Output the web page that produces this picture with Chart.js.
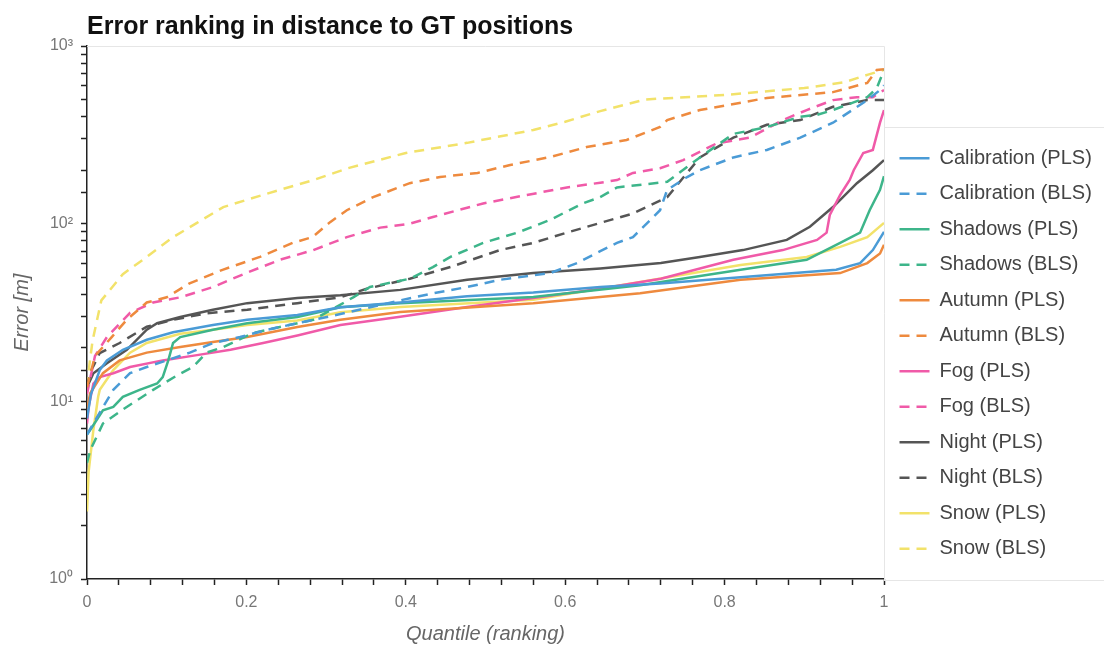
<!DOCTYPE html>
<html>
<head>
<meta charset="utf-8">
<script src="https://cdn.jsdelivr.net/npm/chart.js@4.4.0/dist/chart.umd.min.js"></script>
<style>
    html, body { margin: 0; padding: 0; background: #fff; }
    #wrap { width: 1104px; height: 646px; }
</style>
</head>
<body>
<div id="wrap"><canvas id="error-chart" width="1104" height="646"></canvas></div>
<script>
// [quantile, error in m]
const calibrationPLS = [[0,8],[0.005,11],[0.016,15],[0.025,17],[0.045,19.5],[0.075,22.2],[0.108,24.5],[0.158,26.9],[0.201,28.8],[0.264,30.6],[0.318,33.8],[0.393,36],[0.477,39],[0.56,41],[0.644,44],[0.719,46],[0.82,50],[0.94,55],[0.97,60],[0.986,71],[1,90]];
const calibrationBLS = [[0,6.5],[0.013,8.2],[0.033,11.6],[0.054,14.4],[0.075,15.6],[0.1,17],[0.129,18.8],[0.158,21.3],[0.192,23],[0.226,25.3],[0.264,27.5],[0.318,31],[0.393,37],[0.434,40.5],[0.477,44],[0.518,48.3],[0.581,52.7],[0.615,60],[0.644,70],[0.665,78],[0.685,84],[0.719,119],[0.728,155],[0.753,183],[0.769,200],[0.811,236],[0.853,260],[0.895,305],[0.936,370],[0.979,496],[0.995,565],[1,600]];
const shadowsPLS = [[0,6.5],[0.004,6.9],[0.02,8.9],[0.033,9.3],[0.045,10.6],[0.066,11.6],[0.088,12.6],[0.095,13.7],[0.102,17],[0.108,21.3],[0.117,23],[0.158,25.3],[0.201,27.5],[0.264,29.8],[0.318,33.8],[0.393,35.6],[0.56,38.6],[0.694,45],[0.82,55],[0.903,62.6],[0.945,78],[0.97,89],[0.982,119],[0.995,155],[1,185]];
const shadowsBLS = [[0,4.5],[0.004,5.3],[0.02,7.5],[0.045,9],[0.083,11.6],[0.113,14],[0.133,15.6],[0.15,18.8],[0.171,20.2],[0.208,24.2],[0.242,26.2],[0.284,28.8],[0.317,34.8],[0.334,38.5],[0.355,44],[0.405,49],[0.434,57],[0.456,65],[0.497,78],[0.54,89],[0.581,105],[0.622,130],[0.644,141],[0.665,160],[0.728,172],[0.769,236],[0.811,320],[0.853,350],[0.895,400],[0.916,410],[0.936,436],[0.979,515],[0.991,580],[1,733]];
const autumnPLS = [[0,9],[0.004,11.1],[0.02,14.4],[0.041,17],[0.075,18.8],[0.117,20.2],[0.158,21.6],[0.201,23],[0.264,26.2],[0.318,28.8],[0.393,31.8],[0.56,35.6],[0.694,40.6],[0.82,48.3],[0.945,52.7],[0.979,60],[0.995,68],[1,76]];
const autumnBLS = [[0,12],[0.01,18],[0.031,23],[0.05,28.8],[0.075,36],[0.1,38.5],[0.128,46],[0.17,55],[0.217,65],[0.258,78],[0.283,84],[0.305,102],[0.326,119],[0.359,141],[0.405,169],[0.443,183],[0.49,193],[0.531,214],[0.581,237],[0.627,270],[0.677,296],[0.719,350],[0.728,383],[0.769,436],[0.853,510],[0.936,550],[0.979,620],[0.991,733],[1,740]];
const fogPLS = [[0,7.5],[0.002,9.3],[0.008,12.6],[0.016,13.7],[0.033,14.4],[0.054,15.6],[0.095,17],[0.138,18.2],[0.18,19.5],[0.221,21.3],[0.264,23.5],[0.318,26.9],[0.393,29.9],[0.477,34],[0.56,38.2],[0.644,43],[0.72,49],[0.811,62.6],[0.873,71],[0.916,81],[0.928,89],[0.932,112],[0.945,145],[0.957,176],[0.962,200],[0.974,250],[0.986,260],[0.995,370],[1,436]];
const fogBLS = [[0,11],[0.01,18],[0.025,23],[0.054,31.5],[0.083,36],[0.117,38.5],[0.158,44],[0.201,53],[0.242,62.6],[0.284,71],[0.326,84],[0.368,95],[0.405,100],[0.434,109],[0.497,130],[0.552,145],[0.602,160],[0.644,170],[0.665,176],[0.685,193],[0.719,205],[0.748,228],[0.79,283],[0.832,305],[0.873,383],[0.903,436],[0.936,496],[0.966,515],[0.986,515],[1,565]];
const nightPLS = [[0,12],[0.008,14.4],[0.025,16.4],[0.05,19.5],[0.075,25.3],[0.088,27.5],[0.117,29.8],[0.158,32.8],[0.201,35.7],[0.264,38.2],[0.318,39.6],[0.393,42.4],[0.477,48.3],[0.56,52.7],[0.644,56],[0.72,60],[0.769,65],[0.823,71],[0.878,81],[0.907,96],[0.936,124],[0.966,169],[0.986,200],[1,228]];
const nightBLS = [[0,12],[0.004,14.5],[0.016,18.7],[0.041,21.3],[0.075,26.3],[0.108,28.8],[0.151,31.3],[0.201,32.8],[0.264,35.7],[0.318,38.5],[0.351,43],[0.405,49],[0.456,57],[0.518,71],[0.56,78],[0.602,89],[0.644,101],[0.685,114],[0.728,141],[0.753,193],[0.769,236],[0.811,305],[0.853,360],[0.895,383],[0.936,455],[0.979,496],[1,496]];
const snowPLS = [[0,2.4],[0.002,4],[0.008,6.9],[0.014,10.6],[0.016,11.6],[0.033,15],[0.054,18.8],[0.075,21.3],[0.117,24],[0.158,25.3],[0.201,26.9],[0.264,28.5],[0.318,31.7],[0.393,34],[0.56,37.3],[0.694,47],[0.82,58.5],[0.903,65],[0.945,74],[0.979,84],[1,101]];
const snowBLS = [[0,12],[0.003,16],[0.007,22],[0.018,37],[0.045,52],[0.075,65],[0.108,84],[0.138,101],[0.171,124],[0.2,136],[0.242,155],[0.284,176],[0.327,205],[0.4,250],[0.477,285],[0.56,337],[0.6,375],[0.644,430],[0.7,500],[0.8,530],[0.9,580],[0.95,625],[0.98,690],[1,733]];

const conditions = ['Calibration', 'Shadows', 'Autumn', 'Fog', 'Night', 'Snow'];
const plsSeries = [calibrationPLS, shadowsPLS, autumnPLS, fogPLS, nightPLS, snowPLS];
const blsSeries = [calibrationBLS, shadowsBLS, autumnBLS, fogBLS, nightBLS, snowBLS];
const colors = ['#4a9bd6', '#3db58a', '#ee8a3e', '#f05aa8', '#555555', '#f2e26a'];
const xTickLabels = ['0', '0.2', '0.4', '0.6', '0.8', '1'];
const yTickLabels = ['10⁰', '10¹', '10²', '10³'];

const FONT = "'Liberation Sans', Arial, sans-serif";

function toPoints(arr) {
    return arr.map(p => ({ x: p[0], y: p[1] }));
}

const datasets = [];
conditions.forEach((name, i) => {
    datasets.push({
        label: `${name} (PLS)`,
        data: toPoints(plsSeries[i]),
        borderColor: colors[i],
        backgroundColor: colors[i],
        borderWidth: 2.5,
        pointRadius: 0,
        pointStyle: 'line',
        tension: 0,
    });
    datasets.push({
        label: `${name} (BLS)`,
        data: toPoints(blsSeries[i]),
        borderColor: colors[i],
        backgroundColor: colors[i],
        borderWidth: 2.5,
        borderDash: [10, 7],
        pointRadius: 0,
        pointStyle: 'line',
        tension: 0,
    });
});

// fixed legend width + light frame lines like the original
const framePlugin = {
    id: 'frame',
    beforeUpdate(chart) {
        const legend = chart.legend;
        if (legend && !legend._patched) {
            const origFit = legend.fit;
            legend.fit = function () {
                origFit.call(this);
                this.width = 220;
            };
            legend._patched = true;
        }
    },
    afterLayout(chart) {
        const ca = chart.chartArea;
        chart.legend.top = ca.top + 81;
        chart.legend.bottom = ca.bottom + 1;
    },
    beforeDatasetsDraw(chart) {
        const ctx = chart.ctx;
        const ca = chart.chartArea;
        const lg = chart.legend;
        ctx.save();
        ctx.strokeStyle = '#e6e6e6';
        ctx.lineWidth = 1;
        ctx.beginPath();
        ctx.moveTo(ca.left, ca.top + 0.5);
        ctx.lineTo(ca.right + 0.5, ca.top + 0.5);
        ctx.lineTo(ca.right + 0.5, lg.bottom);
        ctx.moveTo(ca.right, lg.top + 0.5);
        ctx.lineTo(chart.width, lg.top + 0.5);
        ctx.moveTo(ca.right, lg.bottom + 0.5);
        ctx.lineTo(chart.width, lg.bottom + 0.5);
        ctx.stroke();
        ctx.restore();
    }
};

function drawChart() {
    const ctx = document.getElementById('error-chart').getContext('2d');
    new Chart(ctx, {
        type: 'line',
        data: { datasets: datasets },
        options: {
            responsive: false,
            animation: false,
            layout: { padding: 0 },
            plugins: {
                tooltip: { enabled: false },
                title: {
                    display: true,
                    text: 'Error ranking in distance to GT positions',
                    align: 'start',
                    fullSize: false,
                    color: '#111',
                    font: { family: FONT, size: 25, weight: 'bold' },
                    padding: { top: 12, bottom: 4 },
                },
                legend: {
                    position: 'right',
                    align: 'center',
                    labels: {
                        usePointStyle: true,
                        pointStyleWidth: 30,
                        boxHeight: 20,
                        padding: 15.5,
                        color: '#444',
                        font: { family: FONT, size: 20 },
                        generateLabels: (chart) => {
                            const items = Chart.defaults.plugins.legend.labels.generateLabels(chart);
                            items.forEach(item => {
                                const ds = chart.data.datasets[item.datasetIndex];
                                item.lineDash = ds.borderDash || [];
                                item.lineWidth = 2.5;
                                item.strokeStyle = ds.borderColor;
                            });
                            return items;
                        },
                    },
                },
            },
            scales: {
                x: {
                    type: 'linear',
                    min: 0,
                    max: 1,
                    afterFit: (scale) => { scale.height = 67; },
                    border: { color: '#222', width: 1.5 },
                    grid: { drawOnChartArea: false, drawTicks: true, tickLength: 6, color: '#222', tickWidth: 1.5 },
                    ticks: {
                        stepSize: 0.04,
                        autoSkip: false,
                        maxRotation: 0,
                        padding: 8,
                        color: '#777',
                        font: { family: FONT, size: 16 },
                        callback: (v) => {
                            const k = Math.round(v * 100);
                            return k % 20 === 0 ? xTickLabels[k / 20] : '';
                        },
                    },
                    title: {
                        display: true,
                        text: 'Quantile (ranking)',
                        color: '#666',
                        font: { family: FONT, size: 20, style: 'italic' },
                        padding: { top: 0, bottom: 0 },
                    },
                },
                y: {
                    type: 'logarithmic',
                    min: 1,
                    max: 1000,
                    afterFit: (scale) => { scale.width = 87; },
                    border: { color: '#222', width: 1.5 },
                    grid: { drawOnChartArea: false, drawTicks: true, tickLength: 6, color: '#222', tickWidth: 1.5 },
                    ticks: {
                        autoSkip: false,
                        padding: 8,
                        color: '#777',
                        font: { family: FONT, size: 16 },
                        callback: (v) => {
                            const e = Math.log10(v);
                            const r = Math.round(e);
                            return Math.abs(e - r) < 1e-9 ? yTickLabels[r] : '';
                        },
                    },
                    title: {
                        display: true,
                        text: 'Error [m]',
                        color: '#666',
                        font: { family: FONT, size: 20, style: 'italic' },
                        padding: { top: 10, bottom: 4 },
                    },
                },
            },
        },
        plugins: [framePlugin],
    });
}

window.onload = () => {
    drawChart();
};
</script>
</body>
</html>
